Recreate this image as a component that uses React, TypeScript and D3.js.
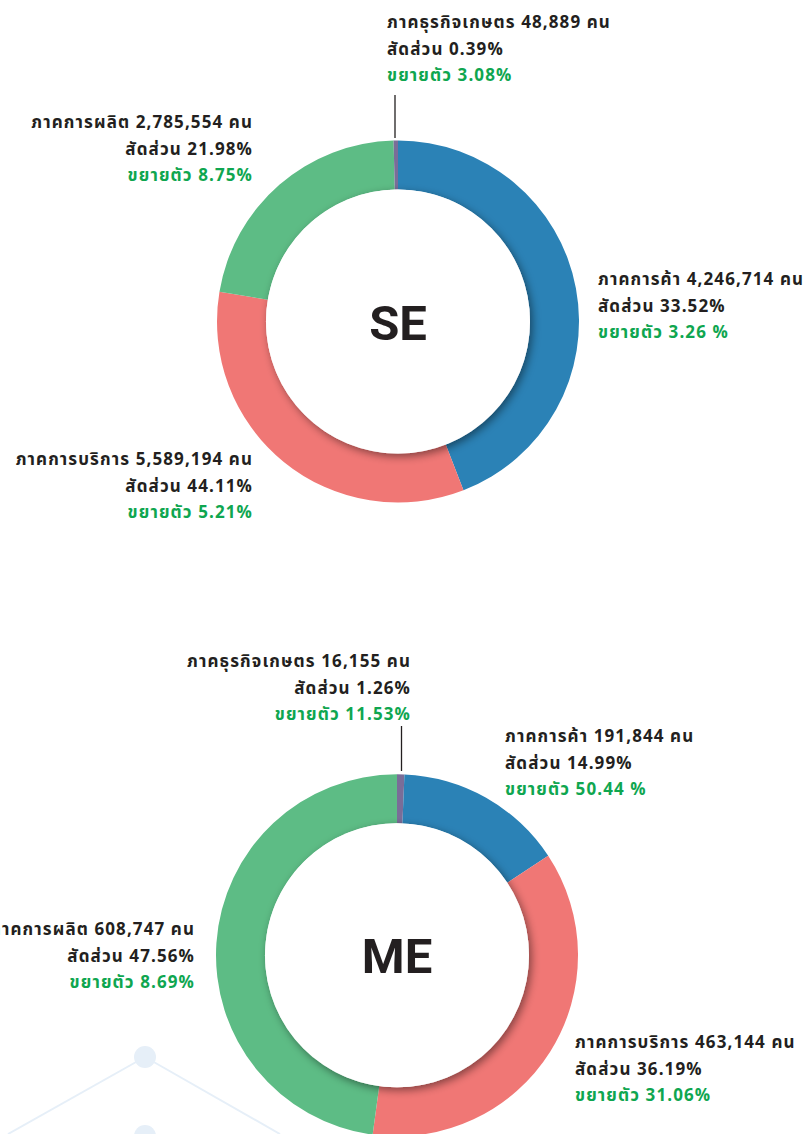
import React from "react";
import * as d3 from "d3";

// ---- data ----
const sectorNames = ["ภาคธุรกิจเกษตร", "ภาคการค้า", "ภาคการบริการ", "ภาคการผลิต"];
const seWorkers = [48889, 4246714, 5589194, 2785554];
const seShare = ["0.39%", "33.52%", "44.11%", "21.98%"];
const seGrowth = ["3.08%", "3.26 %", "5.21%", "8.75%"];
const meWorkers = [16155, 191844, 463144, 608747];
const meShare = ["1.26%", "14.99%", "36.19%", "47.56%"];
const meGrowth = ["11.53%", "50.44 %", "31.06%", "8.69%"];

// slices as drawn (clockwise from 12 o'clock)
const seSliceValues = [44.11, 33.52, 21.98, 0.39];
const seSliceColors = ["#2b82b6", "#f07775", "#5dbc85", "#7a6d98"];
const meSliceValues = [0.65, 14.99, 36.19, 47.56];
const meSliceColors = ["#7a6d98", "#2b82b6", "#f07775", "#5dbc85"];

const FONT = "'Noto Sans Thai', 'Noto Sans', Tahoma, sans-serif";
const DARK = "#231f20";
const GREEN = "#0fa650";

type LabelPos = { x: number; y: number; anchor: "start" | "end" };

function Label({ pos, name, workers, share, growth }: { pos: LabelPos; name: string; workers: number; share: string; growth: string }) {
  const fmt = d3.format(",");
  return (
    <text x={pos.x} y={pos.y} textAnchor={pos.anchor} fontFamily={FONT} fontWeight={700} fontSize={17} letterSpacing={1.1}>
      <tspan x={pos.x} fill={DARK}>{`${name} ${fmt(workers)} คน`}</tspan>
      <tspan x={pos.x} dy={26.5} fill={DARK}>{`สัดส่วน ${share}`}</tspan>
      <tspan x={pos.x} dy={26.5} fill={GREEN}>{`ขยายตัว ${growth}`}</tspan>
    </text>
  );
}

function Donut({ cx, cy, values, colors, title, titleY }: { cx: number; cy: number; values: number[]; colors: string[]; title: string; titleY: number }) {
  const pie = d3.pie<number>().sort(null).value((d) => d).startAngle(0).endAngle(2 * Math.PI);
  const arc = d3.arc<d3.PieArcDatum<number>>().innerRadius(132).outerRadius(181);
  const arcs = pie(values);
  return (
    <g transform={`translate(${cx},${cy})`}>
      {arcs.map((a, i) => (
        <path key={i} d={arc(a) || ""} fill={colors[i]} />
      ))}
      <circle r={132} fill="#ffffff" filter="url(#holeShadow)" />
      <text x={0} y={titleY} textAnchor="middle" fontFamily="Roboto, 'Liberation Sans', Arial, sans-serif" fontWeight={700} fontSize={49} fill={DARK}>
        {title}
      </text>
    </g>
  );
}

export default function App() {
  React.useEffect(() => {
    document.body.style.margin = "0";
  }, []);
  const seLabelPos: LabelPos[] = [
    { x: 387, y: 28, anchor: "start" },
    { x: 598, y: 285, anchor: "start" },
    { x: 253, y: 465, anchor: "end" },
    { x: 253, y: 128, anchor: "end" },
  ];
  const meLabelPos: LabelPos[] = [
    { x: 411, y: 667, anchor: "end" },
    { x: 505, y: 742, anchor: "start" },
    { x: 575, y: 1048, anchor: "start" },
    { x: 195, y: 935, anchor: "end" },
  ];
  return (
    <svg width={808} height={1134} style={{ display: "block" }}>
      <defs>
        <filter id="holeShadow" x="-20%" y="-20%" width="140%" height="140%">
          <feDropShadow dx={2.5} dy={3} stdDeviation={4} floodColor="#000" floodOpacity={0.45} />
        </filter>
      </defs>
      <rect width={808} height={1134} fill="#ffffff" />
      {/* background decoration */}
      <g stroke="#e6eff8" strokeWidth={2} fill="none">
        <line x1={145} y1={1057} x2={8} y2={1134} />
        <line x1={145} y1={1057} x2={280} y2={1134} />
      </g>
      <circle cx={145} cy={1057} r={11} fill="#e6eff8" />
      <circle cx={145} cy={1136} r={11} fill="#e6eff8" />

      {/* SE */}
      <line x1={395} y1={95} x2={395} y2={138} stroke={DARK} strokeWidth={1.3} />
      <Donut cx={398} cy={321.5} values={seSliceValues} colors={seSliceColors} title="SE" titleY={18.5} />
      {sectorNames.map((n, i) => (
        <Label key={"se" + i} pos={seLabelPos[i]} name={n} workers={seWorkers[i]} share={seShare[i]} growth={seGrowth[i]} />
      ))}

      {/* ME */}
      <line x1={401.5} y1={726} x2={401.5} y2={771} stroke={DARK} strokeWidth={1.3} />
      <Donut cx={397} cy={955.3} values={meSliceValues} colors={meSliceColors} title="ME" titleY={17.7} />
      {sectorNames.map((n, i) => (
        <Label key={"me" + i} pos={meLabelPos[i]} name={n} workers={meWorkers[i]} share={meShare[i]} growth={meGrowth[i]} />
      ))}
    </svg>
  );
}
